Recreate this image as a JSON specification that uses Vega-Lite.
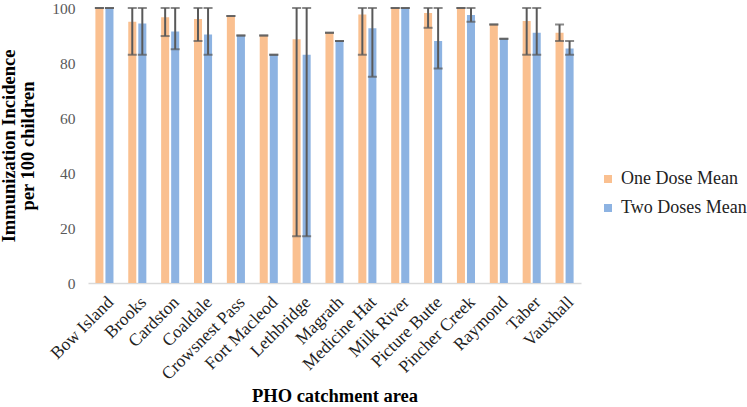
{
  "$schema": "https://vega.github.io/schema/vega-lite/v6.json",
  "autosize": "none",
  "width": 493,
  "height": 275,
  "padding": {"left": 88, "top": 8, "right": 166, "bottom": 124},
  "background": "white",
  "config": {
    "font": "Liberation Serif, Times New Roman, serif",
    "view": {"stroke": null}
  },
  "data": {
    "values": [
      {"area": "Bow Island", "dose": "One Dose Mean", "mean": 100, "lo": 100, "hi": 100},
      {"area": "Bow Island", "dose": "Two Doses Mean", "mean": 100, "lo": 100, "hi": 100},
      {"area": "Brooks", "dose": "One Dose Mean", "mean": 95, "lo": 83, "hi": 100},
      {"area": "Brooks", "dose": "Two Doses Mean", "mean": 94.4, "lo": 83, "hi": 100},
      {"area": "Cardston", "dose": "One Dose Mean", "mean": 96.6, "lo": 89.8, "hi": 100},
      {"area": "Cardston", "dose": "Two Doses Mean", "mean": 91.5, "lo": 85, "hi": 100},
      {"area": "Coaldale", "dose": "One Dose Mean", "mean": 96, "lo": 88, "hi": 100},
      {"area": "Coaldale", "dose": "Two Doses Mean", "mean": 90.4, "lo": 83, "hi": 100},
      {"area": "Crowsnest Pass", "dose": "One Dose Mean", "mean": 97.1, "lo": 97.1, "hi": 97.1},
      {"area": "Crowsnest Pass", "dose": "Two Doses Mean", "mean": 90, "lo": 90, "hi": 90},
      {"area": "Fort Macleod", "dose": "One Dose Mean", "mean": 90, "lo": 90, "hi": 90},
      {"area": "Fort Macleod", "dose": "Two Doses Mean", "mean": 83, "lo": 83, "hi": 83},
      {"area": "Lethbridge", "dose": "One Dose Mean", "mean": 88.6, "lo": 17, "hi": 100},
      {"area": "Lethbridge", "dose": "Two Doses Mean", "mean": 83, "lo": 17, "hi": 100},
      {"area": "Magrath", "dose": "One Dose Mean", "mean": 91, "lo": 91, "hi": 91},
      {"area": "Magrath", "dose": "Two Doses Mean", "mean": 88, "lo": 88, "hi": 88},
      {"area": "Medicine Hat", "dose": "One Dose Mean", "mean": 97.6, "lo": 83, "hi": 100},
      {"area": "Medicine Hat", "dose": "Two Doses Mean", "mean": 92.6, "lo": 75, "hi": 100},
      {"area": "Milk River", "dose": "One Dose Mean", "mean": 100, "lo": 100, "hi": 100},
      {"area": "Milk River", "dose": "Two Doses Mean", "mean": 100, "lo": 100, "hi": 100},
      {"area": "Picture Butte", "dose": "One Dose Mean", "mean": 98.2, "lo": 92.8, "hi": 100},
      {"area": "Picture Butte", "dose": "Two Doses Mean", "mean": 88, "lo": 78, "hi": 100},
      {"area": "Pincher Creek", "dose": "One Dose Mean", "mean": 100, "lo": 100, "hi": 100},
      {"area": "Pincher Creek", "dose": "Two Doses Mean", "mean": 97.5, "lo": 95, "hi": 100},
      {"area": "Raymond", "dose": "One Dose Mean", "mean": 94, "lo": 94, "hi": 94},
      {"area": "Raymond", "dose": "Two Doses Mean", "mean": 88.8, "lo": 88.8, "hi": 88.8},
      {"area": "Taber", "dose": "One Dose Mean", "mean": 95.3, "lo": 83, "hi": 100},
      {"area": "Taber", "dose": "Two Doses Mean", "mean": 91, "lo": 83, "hi": 100},
      {"area": "Vauxhall", "dose": "One Dose Mean", "mean": 91, "lo": 88, "hi": 94},
      {"area": "Vauxhall", "dose": "Two Doses Mean", "mean": 85.3, "lo": 83, "hi": 88}
    ]
  },
  "encoding": {
    "x": {
      "field": "area",
      "type": "nominal",
      "sort": null,
      "scale": {"paddingInner": 0.45, "paddingOuter": 0.225},
      "axis": {
        "title": "PHO catchment area",
        "titleFontSize": 18.5,
        "titleFontWeight": "bold",
        "titleColor": "black",
        "titlePadding": 4,
        "labelAngle": -45,
        "labelFontSize": 17.5,
        "labelColor": "#222222",
        "labelPadding": 10,
        "ticks": false,
        "domainColor": "#d9d9d9",
        "domainWidth": 1.5,
        "grid": false
      }
    },
    "xOffset": {
      "field": "dose",
      "type": "nominal",
      "scale": {"paddingInner": 0.2, "paddingOuter": 0}
    }
  },
  "layer": [
    {
      "mark": {"type": "bar"},
      "encoding": {
        "y": {
          "field": "mean",
          "type": "quantitative",
          "scale": {"domain": [0, 100], "nice": false},
          "axis": {
            "title": ["Immunization Incidence", "per 100 children"],
            "titleFontSize": 18.5,
            "titleFontWeight": "bold",
            "titleColor": "black",
            "titlePadding": 14,
            "titleLineHeight": 19,
            "values": [0, 20, 40, 60, 80, 100],
            "labelFontSize": 15.5,
            "labelColor": "#595959",
            "labelPadding": 13,
            "ticks": false,
            "domain": false,
            "grid": false
          }
        },
        "color": {
          "field": "dose",
          "type": "nominal",
          "scale": {"domain": ["One Dose Mean", "Two Doses Mean"], "range": ["#FAC090", "#8DB3E2"]},
          "legend": {
            "title": null,
            "orient": "none",
            "legendX": 511,
            "legendY": 162,
            "symbolType": "square",
            "symbolSize": 64,
            "symbolStrokeWidth": 0,
            "labelFontSize": 18,
            "labelColor": "#222222",
            "rowPadding": 11,
            "labelOffset": 4
          }
        }
      }
    },
    {
      "mark": {"type": "rule", "color": "#595959", "strokeWidth": 2},
      "encoding": {
        "y": {"field": "lo", "type": "quantitative"},
        "y2": {"field": "hi"}
      }
    },
    {
      "mark": {"type": "tick", "color": "#595959", "thickness": 2, "size": 9},
      "encoding": {
        "y": {"field": "lo", "type": "quantitative"}
      }
    },
    {
      "mark": {"type": "tick", "color": "#595959", "thickness": 2, "size": 9},
      "encoding": {
        "y": {"field": "hi", "type": "quantitative"}
      }
    }
  ]
}
